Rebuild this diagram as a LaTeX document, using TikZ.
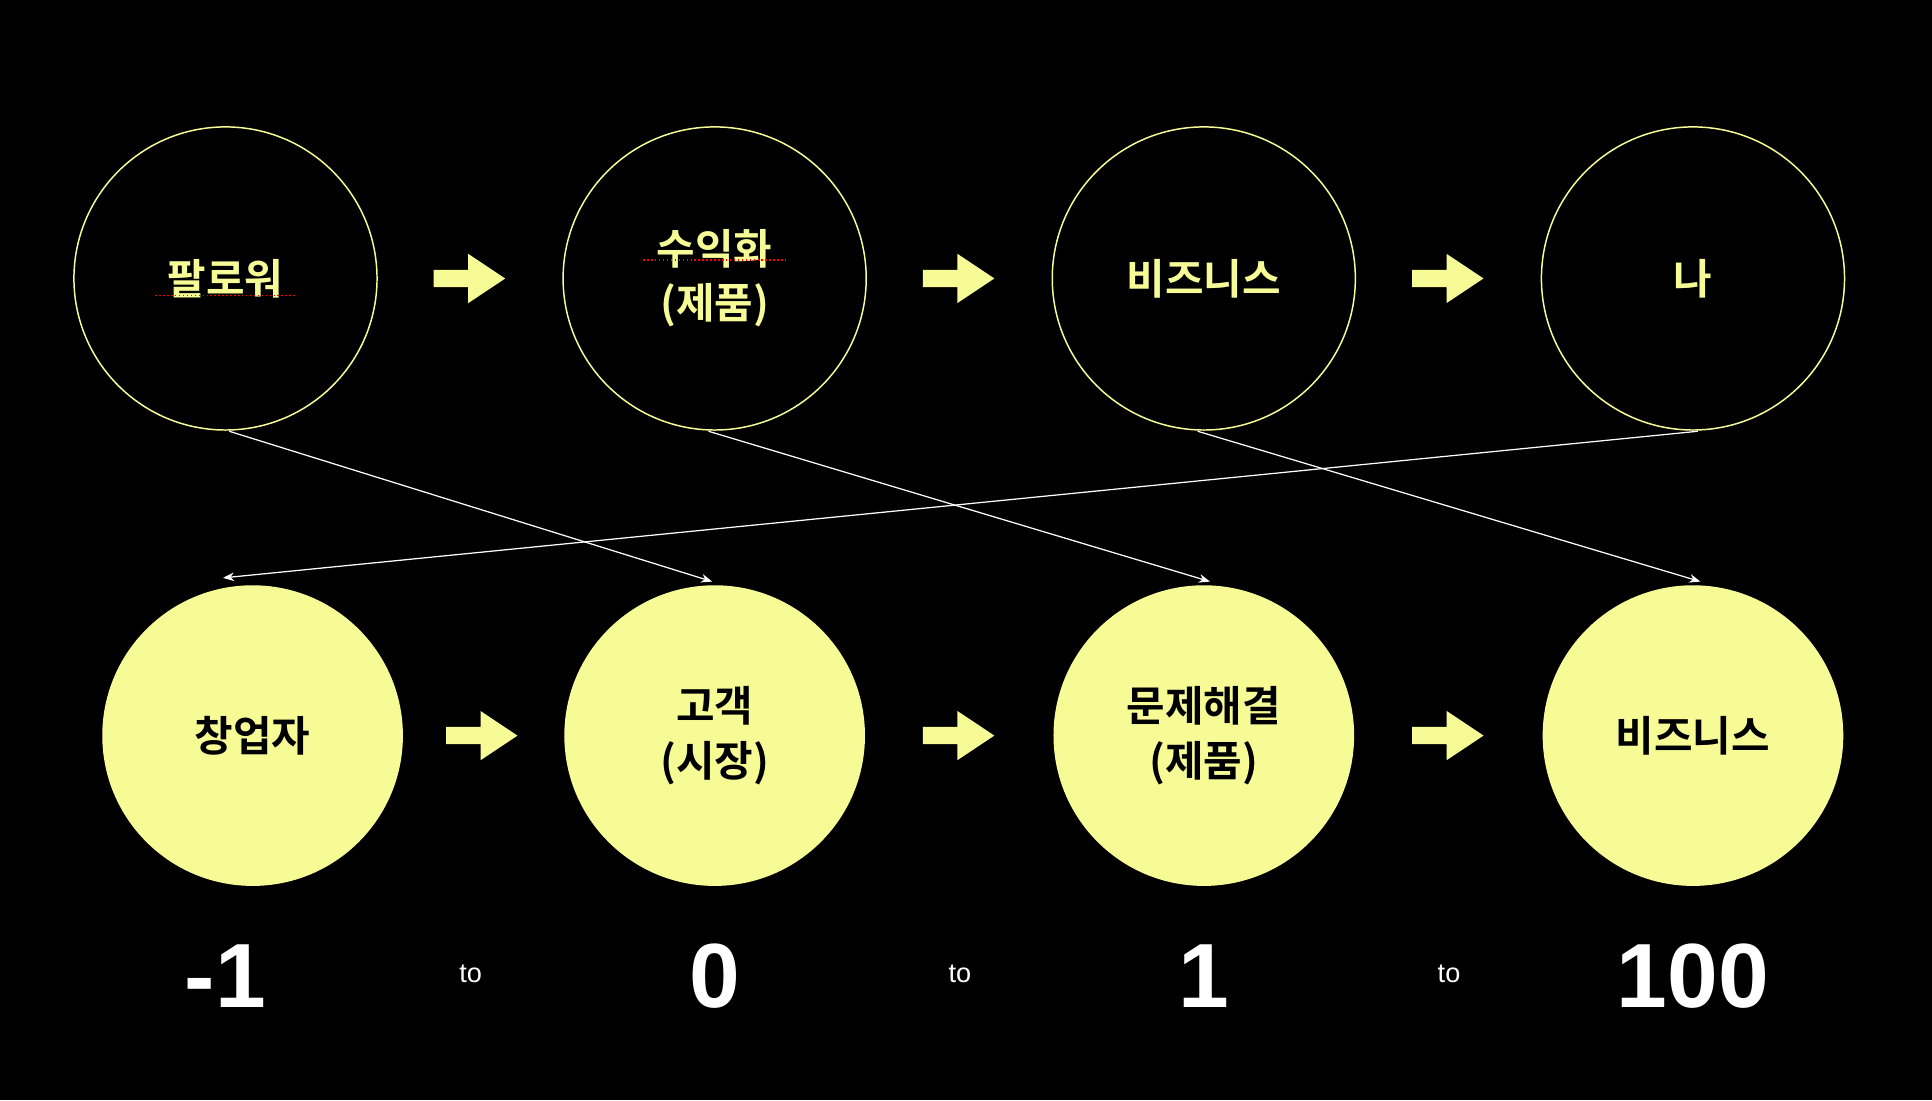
\documentclass[tikz,border=0pt]{standalone}
\usepackage{fontspec}
\setmainfont{Liberation Sans}
\newfontfamily\kr{Noto Sans CJK KR Bold}
\usetikzlibrary{arrows.meta}
\definecolor{ylw}{HTML}{F7FB96}
\tikzset{
 topc/.style={circle,draw=ylw,line width=1.2pt,minimum size=246pt,inner sep=0pt,text=ylw,font=\kr\fontsize{34}{44}\selectfont,align=center},
 botc/.style={circle,fill=ylw,minimum size=244pt,inner sep=0pt,text=black,font=\kr\fontsize{34}{44}\selectfont,align=center},
 num/.style={text=white,font=\bfseries\fontsize{74}{80}\selectfont},
 tolbl/.style={text=white,font=\fontsize{22}{24}\selectfont},
 link/.style={draw=white,line width=1pt,-{Stealth[length=9pt,width=7pt]}},
 blk/.pic={\fill[ylw] (0,-7)--(28,-7)--(28,-20)--(58,0)--(28,20)--(28,7)--(0,7)--cycle;},
 spell/.style={draw=red,line width=1.2pt,dotted}
}
\begin{document}
\begin{tikzpicture}[x=1pt,y=-1pt]
\fill[black] (0,0) rectangle (1568,893);
\useasboundingbox (0,0) rectangle (1568,893);
\node[topc] (t1) at (183,226) {팔로워};
\node[topc] (t2) at (580,226) {수익화\\(제품)};
\node[topc] (t3) at (977,226) {비즈니스};
\node[topc] (t4) at (1374,226) {나};
\draw[spell] (126,240) -- (241,240);
\draw[spell] (522,211) -- (638,211);
\node[botc] (b1) at (205,597) {창업자};
\node[botc] (b2) at (580,597) {고객\\(시장)};
\node[botc] (b3) at (977,597) {문제해결\\(제품)};
\node[botc] (b4) at (1374,597) {비즈니스};
\pic at (352,226) {blk}; \pic at (749,226) {blk}; \pic at (1146,226) {blk};
\pic at (362,597) {blk}; \pic at (749,597) {blk}; \pic at (1146,597) {blk};
\coordinate (e1) at (578,472); \coordinate (e2) at (982,472); \coordinate (e3) at (1380,472); \coordinate (e4) at (181,469);
\coordinate (s1) at (186,350); \coordinate (s2) at (575,350); \coordinate (s3) at (972,350); \coordinate (s4) at (1378,350);
\draw[link] (s1) -- (e1);
\draw[link] (s2) -- (e2);
\draw[link] (s3) -- (e3);
\draw[link] (s4) -- (e4);
\node[num] (n1) at (183,792) {-1};
\node[num] (n2) at (580,792) {0};
\node[num] (n3) at (977,792) {1};
\node[num] (n4) at (1374,792) {100};
\node[tolbl] (o1) at (382,790) {to};
\node[tolbl] (o2) at (779,790) {to};
\node[tolbl] (o3) at (1176,790) {to};
\end{tikzpicture}
\end{document}
